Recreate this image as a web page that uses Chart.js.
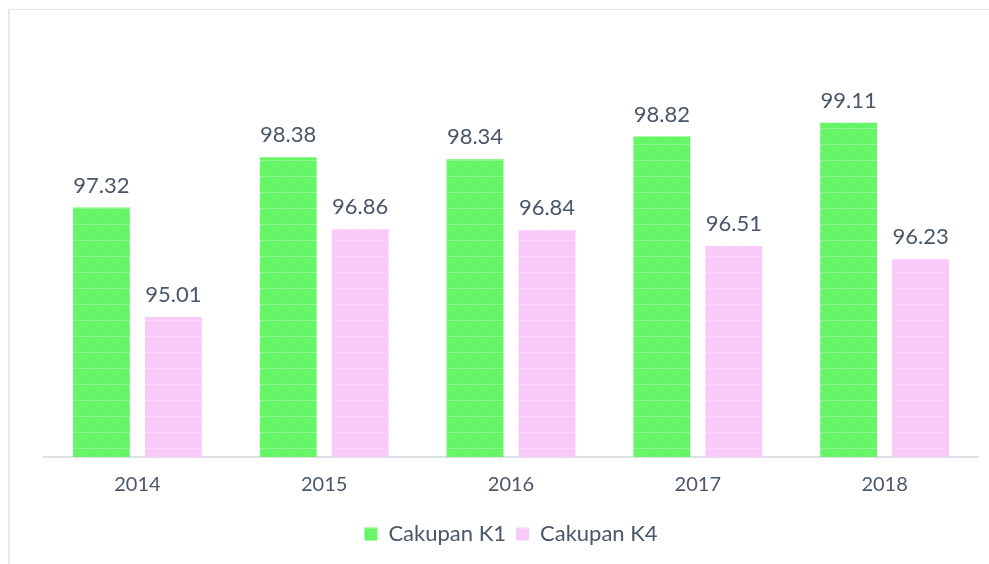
<!DOCTYPE html>
<html>
<head>
<meta charset="utf-8">
<script src="https://cdn.jsdelivr.net/npm/chart.js@4"></script>
<style>
  html, body { margin: 0; padding: 0; background: #fff; }
  #wrap { position: relative; width: 989px; height: 564px; }
  #frame { position: absolute; left: 8px; top: 9px; right: -2px; bottom: -2px;
           border-left: 2px solid #e6e9ee; border-top: 1px solid #e6e9ee; }
  canvas { position: absolute; left: 0; top: 0; }
</style>
</head>
<body>
<div id="wrap">
  <div id="frame"></div>
  <canvas id="chart" width="989" height="564"></canvas>
</div>
<script>
const years = ['2014', '2015', '2016', '2017', '2018'];
const cakupanK1 = [97.32, 98.38, 98.34, 98.82, 99.11];
const cakupanK4 = [95.01, 96.86, 96.84, 96.51, 96.23];

const textColor = '#4b566a';
const fontName = 'Lato, "Open Sans", sans-serif';

function makePattern(base) {
    const c = document.createElement('canvas');
    c.width = 16; c.height = 16;
    const g = c.getContext('2d');
    g.fillStyle = base;
    g.fillRect(0, 0, 16, 16);
    g.fillStyle = 'rgba(255,255,255,0.25)';
    g.fillRect(0, 0, 16, 1);
    g.fillStyle = 'rgba(255,255,255,0.12)';
    g.fillRect(4, 6, 2, 2);
    g.fillRect(11, 10, 2, 2);
    return g.createPattern(c, 'repeat');
}

// values above each bar
const valueLabels = {
    id: 'valueLabels',
    afterDatasetsDraw(chart) {
        const ctx = chart.ctx;
        ctx.save();
        ctx.font = '22px ' + fontName;
        ctx.fillStyle = textColor;
        ctx.textAlign = 'center';
        ctx.textBaseline = 'bottom';
        chart.data.datasets.forEach((ds, i) => {
            chart.getDatasetMeta(i).data.forEach((bar, j) => {
                ctx.fillText(ds.data[j].toFixed(2), bar.x, bar.y - 11);
            });
        });
        ctx.restore();
    }
};

new Chart(document.getElementById('chart'), {
    type: 'bar',
    data: {
        labels: years,
        datasets: [
            { label: 'Cakupan K1', data: cakupanK1, backgroundColor: makePattern('#66f566') },
            { label: 'Cakupan K4', data: cakupanK4, backgroundColor: makePattern('#f9c9f9') }
        ]
    },
    options: {
        responsive: false,
        animation: false,
        categoryPercentage: 0.771,
        barPercentage: 0.79,
        layout: { padding: { left: 44, right: 11, top: 57, bottom: 9 } },
        scales: {
            y: { display: false, min: 92.05, max: 100.5 },
            x: {
                grid: { display: false, drawTicks: false },
                border: { color: '#dde1e6', width: 2 },
                ticks: { color: textColor, font: { family: fontName, size: 20 }, padding: 16 }
            }
        },
        plugins: {
            legend: {
                position: 'bottom',
                labels: {
                    color: textColor,
                    font: { family: fontName, size: 22 },
                    boxWidth: 13, boxHeight: 13, padding: 10
                }
            },
            tooltip: { enabled: false }
        }
    },
    plugins: [valueLabels]
});
</script>
</body>
</html>
